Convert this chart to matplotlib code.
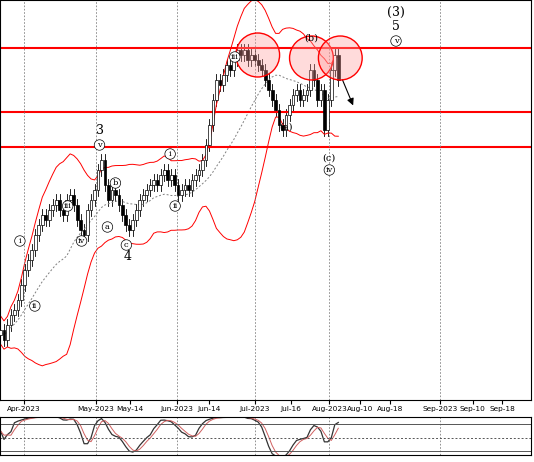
import numpy as np
import pandas as pd
import matplotlib.pyplot as plt
from matplotlib.patches import Ellipse, Rectangle

# closes (chart units), daily bars from 2023-03-23
closes = [70, 60, 75, 85, 90, 100, 115, 130,
          140, 150, 165, 175, 185, 180, 190, 195, 200, 190, 185, 200, 205,
          195, 180, 170, 165, 190, 200, 210,
          230, 240, 215, 200, 210, 205, 195, 185, 175, 170, 180, 190, 200,
          205, 210, 215, 220, 215, 225, 230, 220, 225, 215,
          205, 210, 215, 210, 220, 225, 230, 240, 255, 275, 300, 320, 315,
          325, 335, 330, 340, 350, 345, 350, 340, 345,
          340, 335, 330, 320, 310, 300, 290, 275, 270, 285, 295, 305, 310,
          300, 305, 310, 330, 320, 300, 310, 270,
          300, 330, 345, 320]
dates = pd.bdate_range('2023-03-23', periods=len(closes))
levels = [352, 288, 253]
tick_labels = ['Apr-2023', 'May-2023', 'May-14', 'Jun-2023', 'Jun-14', 'Jul-2023',
               'Jul-16', 'Aug-2023', 'Aug-10', 'Aug-18', 'Sep-2023', 'Sep-10', 'Sep-18']
tick_px = [24, 96, 131, 178, 210, 256, 292, 331, 362, 392, 442, 475, 505]
month_px = [24, 96, 178, 256, 331, 442]

W, H = 534, 462
PXB = 3.5  # pixels per bar


def bx(x):
    return (x - 0.5) / PXB


def py(y):
    return 400 - y


c = np.array(closes, float)
o = np.r_[c[0] - 5, c[:-1]]
hi = np.maximum(o, c) + 6
lo = np.minimum(o, c) - 6
s = pd.Series(c)
ma = s.rolling(20, min_periods=1).mean()
sd = s.rolling(20, min_periods=2).std().bfill()
up, dn = ma + 2 * sd, ma - 2 * sd

fig = plt.figure(figsize=(W / 100, H / 100), dpi=100)
ax = fig.add_axes([0, 62 / H, 0.995, 400 / H])
ax2 = fig.add_axes([0, 7 / H, 0.995, 38 / H])
idx = np.arange(len(c))
for i in idx:
    ax.plot([i, i], [lo[i], hi[i]], color='k', lw=0.6)
    col = 'white' if c[i] >= o[i] else 'black'
    ax.add_patch(Rectangle((i - 0.4, min(o[i], c[i])), 0.8, abs(c[i] - o[i]) + 0.5,
                           facecolor=col, edgecolor='k', lw=0.5, zorder=3))
ax.plot(idx, up, color='red', lw=0.7)
ax.plot(idx, dn, color='red', lw=0.7)
ax.plot(idx, ma, color='gray', lw=0.7, ls=(0, (2, 2)))
for lv in levels:
    ax.axhline(lv, color='red', lw=1.5)
for cx, cy in [(259, 55), (313, 58), (342, 58)]:
    ax.add_patch(Ellipse((bx(cx), py(cy)), 44 / PXB, 44, facecolor=(1, 0.6, 0.6, 0.35),
                         edgecolor='red', lw=1, zorder=4))
for xp in month_px:
    ax.axvline(bx(xp), color='gray', lw=0.6, ls=(0, (2, 2)))
    ax2.axvline(bx(xp), color='gray', lw=0.6, ls=(0, (2, 2)))
ax.annotate('', xy=(bx(356), py(108)), xytext=(bx(343), py(77)),
            arrowprops=dict(arrowstyle='-|>', color='k', lw=0.8))
circ = [('i', 20, 241), ('ii', 35, 306), ('iii', 68, 206), ('iv', 82, 241), ('v', 100, 145),
        ('a', 108, 227), ('b', 116, 183), ('c', 127, 245), ('i', 171, 154), ('ii', 176, 206),
        ('iii', 236, 57), ('iv', 331, 170), ('v', 398, 41)]
for t, x, y in circ:
    ax.text(bx(x), py(y), t, fontsize=6, ha='center', va='center', family='serif',
            bbox=dict(boxstyle='circle,pad=0.15', fc='white', ec='k', lw=0.5), zorder=5)
for t, x, y, fs in [('3', 100, 131, 9), ('4', 128, 257, 9), ('(a)', 287, 127, 7),
                    ('(b)', 313, 38, 7), ('(c)', 331, 158, 7), ('(3)', 398, 12, 9), ('5', 398, 27, 9)]:
    ax.text(bx(x), py(y), t, fontsize=fs, ha='center', va='center', family='serif', zorder=5)
ax.set_xlim(bx(0), bx(W))
ax.set_ylim(0, 400)
ax.set_yticks([])
ax.set_xticks([bx(p) for p in tick_px])
ax.set_xticklabels(tick_labels, fontsize=5.3)
ax.tick_params(axis='x', length=3, pad=1)

# stochastic
low14 = pd.Series(lo).rolling(14, min_periods=1).min()
high14 = pd.Series(hi).rolling(14, min_periods=1).max()
k = (100 * (c - low14) / (high14 - low14)).rolling(3, min_periods=1).mean()
d = k.rolling(3, min_periods=1).mean()
ax2.plot(idx, k, color='#333333', lw=0.9)
ax2.plot(idx, d, color='#d06060', lw=0.7)
for lv, ls in [(80, '-'), (50, (0, (2, 2))), (20, '-')]:
    ax2.axhline(lv, color='#555555', lw=0.7, ls=ls)
ax2.set_xlim(bx(0), bx(W))
ax2.set_ylim(12, 95)
ax2.set_xticks([])
ax2.set_yticks([])
fig.savefig('out.png', dpi=100)
